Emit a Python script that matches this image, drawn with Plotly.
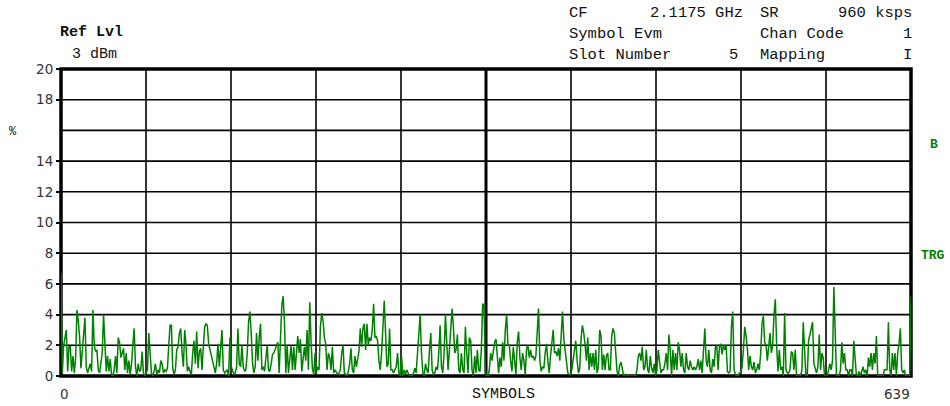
import plotly.graph_objects as go

# Symbol EVM (%) per symbol, symbols 0..639, listed in blocks
evm_000_078 = [6.7, 0.2, 2.0, 2.6, 3.0, 0.3, 1.9, 1.9, 0.3, 1.3,
               0.2, 1.2, 4.3, 3.6, 2.5, 0.5, 1.5, 2.5, 3.8, 0.6,
               0.2, 0.5, 0.8, 0.3, 4.3, 2.0, 1.6, 1.7, 0.4, 0.2,
               1.0, 1.5, 4.0, 2.0, 0.3, 1.3, 0.3, 1.1, 0.1, 0.0,
               0.4, 1.3, 0.2, 2.5, 2.2, 1.2, 1.6, 1.8, 0.4, 1.5,
               0.2, 1.0, 0.1, 0.8, 2.0, 3.1, 0.6, 0.0, 0.8, 0.3,
               0.4, 1.6, 0.2, 0.0, 0.2, 0.4, 2.8, 1.7, 0.2, 0.0,
               0.3, 0.8, 0.1, 0.4, 0.2, 1.0, 0.8, 0.2, 0.4]
evm_079_157 = [0.3, 0.5, 2.0, 3.3, 3.3, 0.5, 0.1, 0.4, 1.7, 1.9,
               2.8, 3.1, 1.5, 0.6, 3.0, 2.0, 0.3, 0.6, 0.3, 0.1,
               1.5, 2.3, 0.8, 2.9, 0.5, 1.6, 1.8, 0.4, 1.9, 3.2,
               3.4, 3.3, 2.1, 1.7, 1.3, 0.9, 0.5, 0.2, 0.8, 2.1,
               0.6, 2.2, 3.0, 0.4, 0.2, 0.3, 0.4, 0.0, 2.5, 0.6,
               0.3, 0.1, 0.2, 0.6, 3.1, 0.8, 0.6, 2.0, 0.6, 0.3,
               0.4, 1.5, 3.5, 4.2, 2.8, 0.8, 0.2, 0.6, 2.8, 1.0,
               2.5, 3.4, 0.4, 0.6, 0.3, 1.2, 2.0, 0.4, 0.3]
evm_158_236 = [0.8, 1.4, 1.5, 1.7, 1.9, 2.2, 0.2, 2.5, 4.6, 5.2,
               3.5, 0.2, 2.0, 0.2, 1.2, 2.0, 0.4, 1.9, 0.4, 1.5,
               2.6, 1.5, 2.4, 0.3, 1.4, 1.9, 1.0, 3.0, 0.4, 4.8,
               2.2, 0.5, 0.1, 1.5, 0.2, 0.6, 0.4, 3.2, 4.1, 3.6,
               2.5, 2.1, 0.4, 1.5, 1.2, 0.4, 1.9, 0.2, 0.4, 0.2,
               0.1, 0.2, 0.4, 1.5, 2.0, 0.2, 0.1, 0.0, 0.3, 0.8,
               1.8, 0.4, 0.2, 1.3, 0.6, 1.0, 1.6, 3.1, 1.9, 3.1,
               3.4, 1.7, 3.4, 2.0, 2.5, 2.3, 3.0, 4.7, 2.5]
evm_237_315 = [2.6, 2.3, 1.0, 0.4, 1.5, 3.2, 4.9, 2.8, 0.6, 0.8,
               3.1, 0.4, 0.4, 0.2, 0.4, 0.6, 1.5, 0.2, 0.0, 1.3,
               0.0, 0.4, 0.1, 0.4, 0.2, 0.0, 0.0, 0.0, 0.2, 0.5,
               0.2, 1.5, 2.8, 4.0, 1.5, 0.2, 0.0, 0.8, 0.4, 0.2,
               1.7, 2.8, 0.4, 0.1, 0.2, 0.6, 0.4, 1.5, 3.3, 0.6,
               0.2, 1.5, 4.0, 2.3, 0.4, 1.7, 2.8, 4.4, 3.2, 1.5,
               1.7, 2.7, 0.4, 0.2, 1.5, 0.4, 0.2, 3.2, 1.5, 0.2,
               2.5, 2.3, 0.4, 0.0, 1.3, 0.2, 1.7, 0.4, 0.3]
evm_316_394 = [1.7, 4.7, 4.6, 0.3, 0.0, 0.0, 0.4, 1.5, 1.0, 1.6,
               2.2, 2.4, 1.0, 0.2, 1.2, 0.6, 2.2, 1.0, 3.0, 4.0,
               2.0, 2.0, 1.0, 0.3, 1.9, 0.8, 0.1, 2.2, 2.9, 1.2,
               0.4, 1.5, 1.0, 0.1, 1.8, 2.0, 1.2, 1.7, 1.2, 1.3,
               1.0, 1.3, 3.3, 4.4, 1.0, 0.3, 0.6, 0.5, 1.5, 2.1,
               1.0, 0.2, 1.3, 2.4, 3.0, 1.5, 1.6, 1.3, 1.8, 1.0,
               3.0, 4.2, 2.4, 1.5, 0.8, 0.2, 0.1, 0.1, 0.4, 1.1,
               1.9, 2.3, 1.0, 0.2, 0.5, 2.5, 3.3, 2.8, 2.0]
evm_395_473 = [1.0, 2.5, 0.4, 1.5, 0.6, 1.5, 0.4, 1.7, 0.2, 0.6,
               3.0, 2.6, 0.4, 1.4, 0.4, 1.3, 1.5, 0.4, 0.4, 2.6,
               3.1, 2.8, 1.6, 0.3, 0.0, 0.7, 0.9, 0.3, 0.0, 0.1,
               0.1, 0.0, 0.0, 0.0, 0.0, 0.0, 0.0, 0.0, 0.4, 1.3,
               1.5, 1.0, 1.9, 0.4, 0.6, 1.7, 0.4, 0.2, 1.3, 0.5,
               0.2, 0.8, 0.0, 0.4, 1.7, 1.0, 0.2, 0.4, 0.4, 0.8,
               1.5, 0.4, 2.7, 1.7, 0.0, 1.7, 0.4, 1.5, 0.4, 2.2,
               1.7, 0.6, 1.5, 0.4, 0.2, 1.5, 0.6, 0.4, 1.0]
evm_474_552 = [0.6, 0.4, 0.6, 0.4, 0.6, 1.1, 0.4, 1.0, 0.2, 1.7,
               3.1, 1.0, 0.6, 1.7, 0.4, 0.2, 1.1, 0.6, 1.9, 2.0,
               0.4, 1.9, 2.1, 1.4, 2.0, 1.7, 2.0, 0.3, 0.2, 0.3,
               3.2, 4.2, 0.4, 0.1, 0.0, 0.0, 0.2, 0.2, 0.6, 1.7,
               3.2, 2.6, 1.8, 0.4, 1.3, 0.6, 0.4, 0.9, 0.2, 0.4,
               0.8, 0.4, 1.5, 3.4, 3.9, 2.2, 2.0, 1.0, 2.0, 2.8,
               1.5, 2.0, 4.0, 5.0, 2.0, 0.3, 1.7, 0.4, 0.6, 0.0,
               4.1, 0.4, 0.2, 0.2, 0.4, 1.6, 1.5, 0.4, 1.7]
evm_553_639 = [0.0, 0.0, 0.0, 0.0, 0.4, 3.5, 1.7, 0.0, 0.0, 2.3,
               2.7, 3.1, 3.5, 0.8, 0.4, 0.2, 0.6, 2.7, 0.4, 1.5,
               1.2, 0.0, 0.0, 0.0, 0.4, 0.8, 0.4, 1.0, 5.8, 2.6,
               0.0, 0.0, 0.0, 0.4, 2.2, 0.8, 1.5, 0.4, 0.4, 0.0,
               0.4, 0.4, 0.0, 2.3, 0.8, 0.0, 0.0, 0.3, 0.0, 0.4,
               0.6, 0.2, 0.4, 0.0, 1.2, 0.6, 1.5, 0.4, 1.5, 0.8,
               2.6, 0.0, 0.0, 0.0, 0.0, 0.0, 0.4, 0.4, 0.4, 3.5,
               0.4, 0.0, 1.5, 0.4, 1.5, 0.0, 1.5, 2.1, 3.1, 0.4,
               0.2, 0.4, 0.0, 0.0, 0.0, 0.0, 5.2]

evm = (evm_000_078 + evm_079_157 + evm_158_236 + evm_237_315 +
       evm_316_394 + evm_395_473 + evm_474_552 + evm_553_639)
symbols = list(range(len(evm)))

y_tick_values = [0, 2, 4, 6, 8, 10, 12, 14, 18, 20]
y_tick_labels = ["0", "2", "4", "6", "8", "10", "12", "14", "18", "20"]
y_grid_levels = [2, 4, 6, 8, 10, 12, 14, 16, 18]
x_divisions = 10

W, H = 950, 406
ML, MR, MT, MB = 61, 39, 69, 30
PW, PH = W - ML - MR, H - MT - MB

MONO = "Liberation Mono, Courier New, monospace"
SANS = "DejaVu Sans, Arial, sans-serif"
TRACE_GREEN = "#008000"


def px(xp):
    return (xp - ML) / PW


def py(yp):
    return (H - MB - yp) / PH


fig = go.Figure(
    go.Scatter(x=symbols, y=evm, mode="lines",
               line=dict(color=TRACE_GREEN, width=1.5),
               hoverinfo="skip", showlegend=False)
)

shapes = []
for lvl in y_grid_levels:
    shapes.append(dict(type="line", xref="x domain", yref="y",
                       x0=0, x1=1, y0=lvl, y1=lvl,
                       line=dict(color="black", width=1.6), layer="below"))
for k in range(1, x_divisions):
    shapes.append(dict(type="line", xref="x domain", yref="y domain",
                       x0=k / x_divisions, x1=k / x_divisions, y0=0, y1=1,
                       line=dict(color="black", width=3 if k == 5 else 1.6),
                       layer="below"))
shapes.append(dict(type="rect", xref="x domain", yref="y domain",
                   x0=0, x1=1, y0=0, y1=1,
                   line=dict(color="black", width=3.5), layer="below"))

annotations = []


def label(text, x, y, anchor="left", font=MONO, size=15.5, color="#111"):
    annotations.append(dict(text=text, xref="paper", yref="paper",
                            x=px(x), y=py(y), xanchor=anchor, yanchor="middle",
                            showarrow=False,
                            font=dict(family=font, size=size, color=color)))


# header block
label("<b>Ref Lvl</b>", 58, 33, size=15)
label("3 dBm", 70, 55, size=15)
label("CF", 567, 13)
label("2.1175 GHz", 745, 13, anchor="right")
label("SR", 758, 13)
label("960 ksps", 914, 13, anchor="right")
label("Symbol Evm", 567, 34)
label("Chan Code", 758, 34)
label("1", 914, 34, anchor="right")
label("Slot Number", 567, 55)
label("5", 740, 55, anchor="right")
label("Mapping", 758, 55)
label("I", 914, 55, anchor="right")

# unit and side markers
label("%", 13, 132, anchor="center", size=12)
label("<b>B</b>", 934, 144, anchor="center", size=13, color=TRACE_GREEN)
label("<b>TRG</b>", 933, 255, anchor="center", size=13, color=TRACE_GREEN)

# x axis labels
label("0", 58, 394, font=SANS, size=13.5, color="#333")
label("SYMBOLS", 504, 394, anchor="center", size=15)
label("639", 912, 394, anchor="right", font=SANS, size=13.5, color="#333")

fig.update_layout(
    width=W, height=H,
    margin=dict(l=ML, r=MR, t=MT, b=MB, pad=0),
    paper_bgcolor="white", plot_bgcolor="white",
    xaxis=dict(range=[0, 639], showticklabels=False, showgrid=False,
               zeroline=False, ticks="", showline=False, fixedrange=True),
    yaxis=dict(range=[0, 20], tickmode="array", tickvals=y_tick_values,
               ticktext=y_tick_labels, ticks="outside", ticklen=4,
               tickwidth=1.6, tickcolor="black",
               tickfont=dict(family=SANS, size=13.5, color="#333"),
               showgrid=False, zeroline=False, showline=False,
               fixedrange=True),
    shapes=shapes,
    annotations=annotations,
)

fig.write_html("out.html")
